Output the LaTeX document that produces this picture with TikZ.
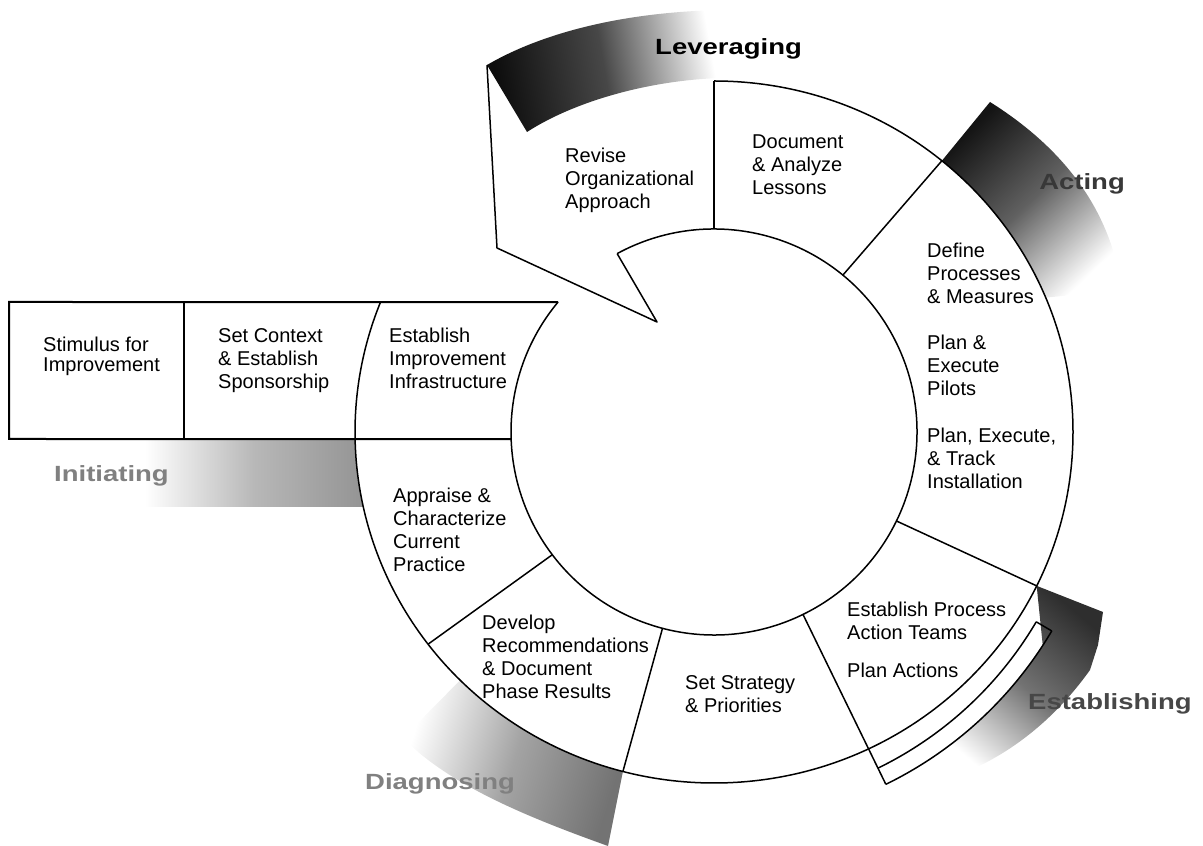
\documentclass[tikz,border=0pt]{standalone}
\usepackage{fontspec}
\setmainfont{Liberation Sans}
\newfontfamily\lblfont[FakeStretch=1.25]{Liberation Sans}
\usetikzlibrary{calc}
\begin{document}
\begin{tikzpicture}[x=1pt,y=1pt,
  ln/.style={line width=1.5pt, line join=round},
  box/.style={line width=2pt, line join=miter},
  txt/.style={anchor=north west, inner sep=0pt, align=left, font=\fontsize{20}{23}\selectfont},
  lbl/.style={inner sep=0pt, font=\fontsize{22}{24}\lblfont\bfseries}]
\useasboundingbox (0,0) rectangle (1203,846);
\coordinate (C) at (714,414);

% ---------- shaded phase arrows ----------
% Leveraging
\shade[top color=black!95, bottom color=white, middle color=black!72, shading angle=100]
  (487,781) .. controls (540,812) and (620,834) .. (722,836) -- (722,768)
  .. controls (650,766) and (575,745) .. (527,714) -- cycle;
% Acting
\shade[top color=black!92, bottom color=white, middle color=black!62, shading angle=44]
  ($(C)+(50.6:359 and 351)$) -- (990,744) .. controls (1060,700) and (1110,640) .. (1122,556)
  -- ($(C)+(22.5:359 and 351)$) arc[start angle=22.5, end angle=50.6, x radius=359, y radius=351] -- cycle;
% Establishing
\shade[top color=black!82, bottom color=white, middle color=black!55, shading angle=-40]
  ($(C)+(-26:359 and 351)$) -- (1103,234) -- (1098,201) -- (1090,176)
  .. controls (1050,120) and (1000,85) .. (950,68)
  -- ($(C)+(-56:392)$) arc[start angle=-56, end angle=-33, radius=392] -- cycle;
% Diagnosing
\shade[top color=black!55, bottom color=white, middle color=black!36, shading angle=-107.5]
  ($(C)+(255.3:359 and 351)$) -- (608,0) .. controls (530,28) and (450,60) .. (403,108)
  -- ($(C)+(225:359 and 351)$) arc[start angle=225, end angle=255.3, x radius=359, y radius=351] -- cycle;
% Initiating
\shade[left color=white, right color=black!42, middle color=black!28]
  (145,407) -- ($(C)+(181.1:359 and 351)$) arc[start angle=181.1, end angle=192.3, x radius=359, y radius=351]
  -- (145,339) -- cycle;

% ---------- ring ----------
\draw[ln] ($(C)+(90:359 and 351)$) arc[start angle=90, end angle=-201.7, x radius=359, y radius=351];
\draw[ln] ($(C)+(118.5:203)$) arc[start angle=118.5, end angle=-219.8, radius=203];

% Initiating boxes
\coordinate (TL) at (9,544);
\coordinate (BL) at (9,407);
\coordinate (TI) at ($(C)+(140.2:203)$);
\coordinate (BI) at ($(C)+(182:203)$);
\coordinate (DT) at (184,544);
\coordinate (DB) at (184,407);
\draw[box] (TI) -- (TL) -- (BL) -- (BI);
\draw[box] (DT) -- (DB);

% Leveraging arrow outline
\coordinate (LA) at (487,781);
\coordinate (LB) at (497,598);
\coordinate (LT) at (657,524);
\coordinate (LI) at ($(C)+(118.5:203)$);
\draw[ln] (LA) -- (LB) -- (LT) -- (LI);

% radial dividers
\foreach \a/\n in {90/d1, 50.6/d2, -26/d3, -104.7/d5, -142.8/d6}{
  \coordinate (\n i) at ($(C)+(\a:203)$);
  \coordinate (\n o) at ($(C)+(\a:359 and 351)$);
  \draw[ln] (\n i) -- (\n o);
}
\coordinate (d4i) at ($(C)+(-64:203)$);
\coordinate (d4o) at ($(C)+(-64:392)$);
\draw[ln] (d4i) -- (d4o);

% Establishing band
\coordinate (b1) at ($(C)+(-30.5:374)$);
\coordinate (b2) at ($(C)+(-30.5:392)$);
\draw[ln] (b1) arc[start angle=-30.5, end angle=-64, radius=374];
\draw[ln] (b2) arc[start angle=-30.5, end angle=-64, radius=392];
\draw[ln] (b1) -- (b2);

% ---------- texts ----------
\node[txt, font=\fontsize{20}{20}\selectfont] (t1) at (43,509) {Stimulus for\\Improvement};
\node[txt] (t2) at (218,518) {Set Context\\\& Establish\\Sponsorship};
\node[txt] (t3) at (389,518) {Establish\\Improvement\\Infrastructure};
\node[txt] (t4) at (393,358) {Appraise \&\\Characterize\\Current\\Practice};
\node[txt] (t5) at (482,231) {Develop\\Recommendations\\\& Document\\Phase Results};
\node[txt] (t6) at (685,171) {Set Strategy\\\& Priorities};
\node[txt] (t7) at (847,244) {Establish Process\\Action Teams};
\node[txt] (t8) at (847,183) {Plan Actions};
\node[txt] (t9) at (927,603) {Define\\Processes\\\& Measures};
\node[txt] (t10) at (927,511) {Plan \&\\Execute\\Pilots};
\node[txt] (t11) at (927,418) {Plan, Execute,\\\& Track\\Installation};
\node[txt] (t12) at (565,698) {Revise\\Organizational\\Approach};
\node[txt] (t13) at (752,711) {Document\\\& Analyze\\Lessons};

% phase labels
\node[lbl, anchor=base west, text=black] (L1) at (655,791) {Leveraging};
\node[lbl, anchor=base east, text=black!78] (L2) at (1125,656) {Acting};
\node[lbl, anchor=base west, text=black!50] (L3) at (54,364) {Initiating};
\node[lbl, anchor=base west, text=black!50] (L4) at (365,56) {Diagnosing};
\node[lbl, anchor=base west, text=black!72] (L5) at (1028,136) {Establishing};
\end{tikzpicture}
\end{document}
